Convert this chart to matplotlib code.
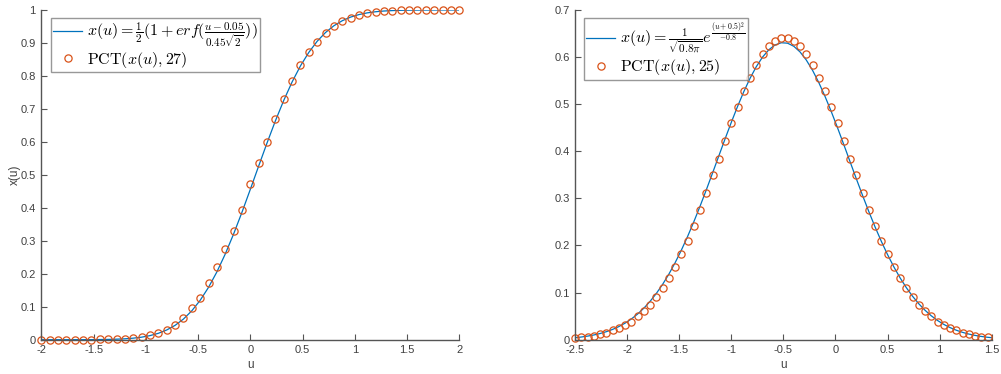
import matplotlib
matplotlib.use("Agg")
import matplotlib.pyplot as plt
import numpy as np

plt.rcParams["mathtext.fontset"] = "cm"
plt.rcParams["axes.unicode_minus"] = False
plt.rcParams["font.family"] = ["Liberation Sans", "DejaVu Sans"]

BLUE = "#0072BD"
ORANGE = "#D95319"
AXIS = "#555555"

# left panel: erf curve and PCT order 27
u_left = np.linspace(-2, 2, 51)
erf_curve = [0.0000, 0.0000, 0.0000, 0.0000, 0.0001, 0.0001, 0.0002, 0.0005, 0.0009, 0.0016,
             0.0027, 0.0047, 0.0077, 0.0124, 0.0194, 0.0295, 0.0435, 0.0626, 0.0876, 0.1194,
             0.1587, 0.2055, 0.2597, 0.3204, 0.3863, 0.4558, 0.5266, 0.5965, 0.6636, 0.7257,
             0.7817, 0.8304, 0.8714, 0.9051, 0.9317, 0.9522, 0.9674, 0.9784, 0.9861, 0.9913,
             0.9947, 0.9969, 0.9982, 0.9990, 0.9995, 0.9997, 0.9998, 0.9999, 1.0000, 1.0000,
             1.0000]
pct_left = [0.000, 0.000, 0.000, 0.000, 0.000, 0.000, 0.000, 0.001, 0.001, 0.002,
            0.003, 0.005, 0.009, 0.014, 0.020, 0.030, 0.046, 0.067, 0.095, 0.128,
            0.171, 0.220, 0.274, 0.331, 0.393, 0.471, 0.535, 0.601, 0.668, 0.729,
            0.785, 0.832, 0.872, 0.904, 0.931, 0.951, 0.966, 0.977, 0.985, 0.990,
            0.994, 0.996, 0.998, 0.999, 0.999, 1.000, 1.000, 1.000, 1.000, 1.000,
            1.000]

# right panel: gaussian curve and PCT order 25, grid -2.5:0.06:1.46
u_right = np.linspace(-2.5, 1.46, 67)
u_right_line = np.append(u_right, 1.5)
gauss_curve = [0.00425, 0.00571, 0.00761, 0.01004, 0.01313, 0.01702, 0.02186, 0.02784, 0.03513, 0.04392,
               0.05443, 0.06684, 0.08137, 0.09815, 0.11732, 0.13900, 0.16320, 0.18989, 0.21897, 0.25025,
               0.28343, 0.31813, 0.35388, 0.39013, 0.42624, 0.46148, 0.49520, 0.52661, 0.55499, 0.57967,
               0.60002, 0.61552, 0.62575, 0.63046, 0.62952, 0.62295, 0.61092, 0.59375, 0.57190, 0.54592,
               0.51644, 0.48418, 0.44987, 0.41425, 0.37803, 0.34188, 0.30642, 0.27219, 0.23960, 0.20902,
               0.18072, 0.15486, 0.13149, 0.11066, 0.09230, 0.07629, 0.06249, 0.05073, 0.04081, 0.03254,
               0.02571, 0.02014, 0.01563, 0.01202, 0.00916, 0.00692, 0.00518, 0.00425]
pct_right = [0.0035, 0.0050, 0.0066, 0.0088, 0.0118, 0.0152, 0.0196, 0.0243, 0.0308, 0.0378,
             0.0496, 0.0609, 0.0744, 0.0907, 0.1106, 0.1312, 0.1546, 0.1822, 0.2106, 0.2418,
             0.2751, 0.312, 0.349, 0.384, 0.422, 0.460, 0.494, 0.527, 0.556, 0.584,
             0.606, 0.623, 0.634, 0.641, 0.641, 0.634, 0.623, 0.606, 0.584, 0.556,
             0.527, 0.494, 0.460, 0.422, 0.384, 0.349, 0.312, 0.2751, 0.2418, 0.2106,
             0.1822, 0.1546, 0.1312, 0.1106, 0.0907, 0.0744, 0.0609, 0.0496, 0.0378, 0.0308,
             0.0243, 0.0196, 0.0152, 0.0118, 0.0088, 0.0066, 0.0050]

left_ticks_x = [-2, -1.5, -1, -0.5, 0, 0.5, 1, 1.5, 2]
left_ticks_y = [0, 0.1, 0.2, 0.3, 0.4, 0.5, 0.6, 0.7, 0.8, 0.9, 1]
right_ticks_x = [-2.5, -2, -1.5, -1, -0.5, 0, 0.5, 1, 1.5]
right_ticks_y = [0, 0.1, 0.2, 0.3, 0.4, 0.5, 0.6, 0.7]

fig = plt.figure(figsize=(10.01, 3.74), dpi=100)
ax1 = fig.add_axes([0.0413, 0.0917, 0.4175, 0.8816])
ax2 = fig.add_axes([0.5745, 0.0917, 0.4162, 0.8816])


def style(ax, xt, yt):
    for side in ["top", "right"]:
        ax.spines[side].set_visible(False)
    for side in ["left", "bottom"]:
        ax.spines[side].set_color(AXIS)
        ax.spines[side].set_linewidth(1.0)
    ax.set_xticks(xt)
    ax.set_yticks(yt)
    ax.set_xticklabels([f"{v:g}" for v in xt])
    ax.set_yticklabels([f"{v:g}" for v in yt])
    ax.tick_params(direction="in", length=4, width=0.8, color=AXIS,
                   labelcolor="#404040", labelsize=8, pad=4)
    ax.set_xlabel("u", fontsize=8.5, color="#404040", labelpad=3)


ax1.plot(u_left, erf_curve, color=BLUE, lw=0.9,
         label=r"$x(u) = \frac{1}{2}(1+erf(\frac{u-0.05}{0.45\sqrt{2}}))$")
ax1.plot(u_left, pct_left, "o", mfc="none", mec=ORANGE, ms=5.2, mew=0.9,
         clip_on=False, label=r"$\mathrm{PCT}(x(u),27)$")
ax1.set_xlim(-2, 2)
ax1.set_ylim(0, 1)
style(ax1, left_ticks_x, left_ticks_y)
ax1.set_ylabel("x(u)", fontsize=8.5, color="#404040")
ax1.yaxis.set_label_coords(-0.05, 0.5)

ax2.plot(u_right_line, gauss_curve, color=BLUE, lw=0.9,
         label=r"$x(u) = \frac{1}{\sqrt{0.8\pi}}e^{\frac{(u+0.5)^2}{-0.8}}$")
ax2.plot(u_right, pct_right, "o", mfc="none", mec=ORANGE, ms=5.2, mew=0.9,
         clip_on=False, label=r"$\mathrm{PCT}(x(u),25)$")
ax2.set_xlim(-2.5, 1.5)
ax2.set_ylim(0, 0.7)
style(ax2, right_ticks_x, right_ticks_y)

for ax, anchor in [(ax1, (0.023, 0.975)), (ax2, (0.021, 0.975))]:
    leg = ax.legend(loc="upper left", bbox_to_anchor=anchor, borderaxespad=0,
                    fontsize=11.5, frameon=True, fancybox=False, handlelength=1.8,
                    handletextpad=0.3, borderpad=0.15, labelspacing=0.0)
    leg.get_frame().set_edgecolor("#7f7f7f")
    leg.get_frame().set_linewidth(1.0)

fig.savefig("out.png", dpi=100)
